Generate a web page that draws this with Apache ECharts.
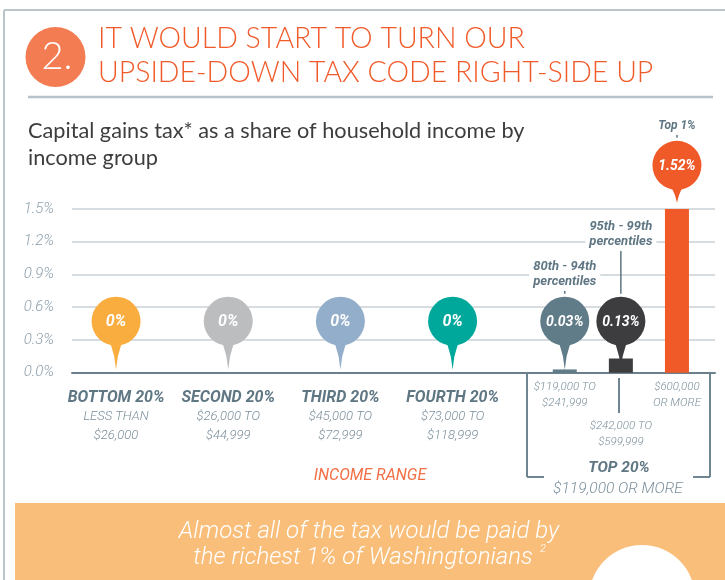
<!DOCTYPE html>
<html>
<head>
<meta charset="utf-8">
<script src="https://cdn.jsdelivr.net/npm/echarts@6.0.0/dist/echarts.min.js"></script>
<style>
  html, body { margin: 0; padding: 0; background: #fff; }
  #main { width: 725px; height: 580px; }
</style>
</head>
<body>
<div id="main"></div>
<script>
// income groups, left to right
const groups = ['BOTTOM 20%', 'SECOND 20%', 'THIRD 20%', 'FOURTH 20%', '80th - 94th', '95th - 99th', 'Top 1%'];
const ranges = [
  ['LESS THAN', '$26,000'],
  ['$26,000 TO', '$44,999'],
  ['$45,000 TO', '$72,999'],
  ['$73,000 TO', '$118,999'],
  ['$119,000 TO', '$241,999'],
  ['$242,000 TO', '$599,999'],
  ['$600,000', 'OR MORE']
];
const callouts = ['', '', '', '', '80th - 94th\npercentiles', '95th - 99th\npercentiles', 'Top 1%'];
// capital gains tax as % of household income
const shares = [0, 0, 0, 0, 0.03, 0.13, 1.52];
const yTicks = [0, 0.3, 0.6, 0.9, 1.2, 1.5];

const pinColors = ['#f9ad3f', '#bcbdbf', '#93aecb', '#00a89c', '#607c88', '#3d3d3f', '#f05a28'];

// category slots, the empty ones make the wide gaps between quintiles
const slotOf = [0, 2, 4, 6, 8, 9, 10];
const slotCount = 11;

const COND = 'Roboto, "Noto Sans", sans-serif';
const GEO = 'Lato, "Noto Sans", sans-serif';
const SLATE = '#5f7683';
const RANGE = '#7b8f9b';

const slotNames = [];
for (let i = 0; i < slotCount; i++) slotNames.push('s' + i);

const barData = slotNames.map(() => '-');
groups.forEach((g, i) => {
  barData[slotOf[i]] = { value: shares[i], itemStyle: { color: pinColors[i] } };
});

function axisLabelFor(value, index) {
  const g = slotOf.indexOf(index);
  if (g < 0) return '';
  const r = ranges[g];
  if (g < 4) return '{sp| }\n{t|' + groups[g] + '}\n{r|' + r[0] + '}\n{r|' + r[1] + '}';
  if (g === 5) return '{sp2| }\n{r2|' + r[0] + '}\n{r2|' + r[1] + '}';
  return '{r2|' + r[0] + '}\n{r2|' + r[1] + '}';
}

function renderPin(params, api) {
  const g = api.value(2);
  const v = api.value(1);
  const base = api.coord([api.value(0), 0]);
  const top = api.coord([api.value(0), v]);
  const x = base[0];
  const onBar = v > 0.5;
  const r = 24.5;
  const tip = onBar ? top[1] - 4 : base[1] - 3;
  const tail = onBar ? 13 : 24;
  const cy = tip - tail - r;
  const color = pinColors[g];
  const label = v === 0 ? '0%' : v.toFixed(2) + '%';
  const kids = [
    {
      type: 'polygon',
      shape: { points: [[x - 6, cy + r - 4], [x - 1.8, cy + r + tail * 0.45], [x, tip], [x + 1.8, cy + r + tail * 0.45], [x + 6, cy + r - 4]] },
      style: { fill: color }
    },
    { type: 'circle', shape: { cx: x, cy: cy, r: r }, style: { fill: color } },
    {
      type: 'text',
      style: {
        text: label, x: x, y: cy + 1, fill: '#fff',
        font: 'italic bold ' + (v === 0 ? 16 : 14) + 'px ' + COND,
        align: 'center', verticalAlign: 'middle', textAlign: 'center', textVerticalAlign: 'middle'
      }
    }
  ];
  if (callouts[g]) {
    const rise = g === 5 ? 40 : 0;
    const cTop = cy - r;
    kids.push({
      type: 'line',
      shape: { x1: x, y1: cTop - 3, x2: x, y2: cTop - 6 - rise },
      style: { stroke: SLATE, lineWidth: 1.5 }
    });
    kids.push({
      type: 'text',
      style: {
        text: callouts[g], x: x, y: cTop - 6 - rise, fill: SLATE,
        font: 'italic bold ' + (g === 6 ? 12 : 13) + 'px ' + COND,
        lineHeight: 15,
        backgroundColor: '#fff', padding: [1, 4],
        align: 'center', verticalAlign: 'bottom', textAlign: 'center', textVerticalAlign: 'bottom'
      }
    });
  }
  return { type: 'group', children: kids };
}

function txt(text, x, y, font, fill, align) {
  return {
    type: 'text',
    style: {
      text: text, x: x, y: y, font: font, fill: fill,
      textAlign: align || 'center', textVerticalAlign: 'middle',
      align: align || 'center', verticalAlign: 'middle'
    }
  };
}

function seg(x1, y1, x2, y2, color, w) {
  return { type: 'line', shape: { x1: x1, y1: y1, x2: x2, y2: y2 }, style: { stroke: color, lineWidth: w } };
}

const myChart = echarts.init(document.getElementById('main'));

const option = {
  animation: false,
  backgroundColor: '#fff',
  grid: [
    { left: 72, right: 10, top: 209, bottom: 207.3 },
    { left: 88, right: 20, top: 209, bottom: 207.3 }
  ],
  xAxis: [
    {
      gridIndex: 0, type: 'category', data: [''],
      axisLine: { lineStyle: { color: '#6b7f8c', width: 2 } },
      axisTick: { show: false }, axisLabel: { show: false }
    },
    {
      gridIndex: 1, type: 'category', data: slotNames,
      axisLine: { show: false }, axisTick: { show: false },
      axisLabel: {
        interval: 0, margin: 6, formatter: axisLabelFor,
        rich: {
          sp: { fontSize: 1, lineHeight: 10 },
          sp2: { fontSize: 1, lineHeight: 39 },
          t: { fontFamily: COND, fontWeight: 'bold', fontStyle: 'italic', fontSize: 16, color: SLATE, lineHeight: 19 },
          r: { fontFamily: COND, fontWeight: 300, fontStyle: 'italic', fontSize: 13, color: RANGE, lineHeight: 19 },
          r2: { fontFamily: COND, fontWeight: 300, fontStyle: 'italic', fontSize: 11.5, color: RANGE, lineHeight: 16 }
        }
      }
    }
  ],
  yAxis: [
    {
      gridIndex: 0, type: 'value',
      min: yTicks[0], max: yTicks[yTicks.length - 1], interval: yTicks[1] - yTicks[0],
      axisLine: { show: false }, axisTick: { show: false },
      axisLabel: {
        margin: 18, formatter: v => v.toFixed(1) + '%',
        fontFamily: COND, fontWeight: 300, fontStyle: 'italic', fontSize: 15, color: '#8d9fac'
      },
      splitLine: { lineStyle: { color: '#d6dce0', width: 2 } }
    },
    {
      gridIndex: 1, type: 'value', show: false,
      min: yTicks[0], max: yTicks[yTicks.length - 1], interval: yTicks[1] - yTicks[0]
    }
  ],
  series: [
    {
      type: 'bar', xAxisIndex: 1, yAxisIndex: 1,
      barWidth: 24, data: barData, z: 3
    },
    {
      type: 'custom', xAxisIndex: 1, yAxisIndex: 1, clip: false, z: 5,
      data: groups.map((g, i) => [slotOf[i], shares[i], i]),
      renderItem: renderPin
    }
  ],
  graphic: [
    // frame + heading
    seg(4, 10, 4, 580, '#bac5cc', 2),
    seg(4, 10, 725, 10, '#bac5cc', 2),
    { type: 'circle', shape: { cx: 55.5, cy: 57, r: 30 }, style: { fill: '#f37c53' } },
    txt('2.', 57, 57, '300 38px ' + GEO, '#fff'),
    txt('IT WOULD START TO TURN OUR', 98, 39, '300 28.5px ' + GEO, '#f15a29', 'left'),
    txt('UPSIDE-DOWN TAX CODE RIGHT-SIDE UP', 98, 73, '300 28.5px ' + GEO, '#f15a29', 'left'),
    seg(28, 97, 713, 97, '#b8c3c9', 2.5),
    txt('Capital gains tax* as a share of household income by', 28, 131, '21.7px ' + GEO, '#3d3d3d', 'left'),
    txt('income group', 28, 158, '21.7px ' + GEO, '#3d3d3d', 'left'),
    // top 20% bracket
    seg(527, 373, 527, 477, '#6f8592', 2),
    seg(527, 477, 544, 477, '#6f8592', 2),
    seg(710, 373, 710, 477, '#6f8592', 2),
    seg(693, 477, 710, 477, '#6f8592', 2),
    seg(619, 378, 619, 413, '#6f8592', 2),
    txt('TOP 20%', 619, 468, 'italic bold 15.5px ' + COND, SLATE),
    txt('$119,000 OR MORE', 618, 489, 'italic 300 15.5px ' + COND, RANGE),
    txt('INCOME RANGE', 370, 476, 'italic 16px ' + COND, '#f26f45'),
    // footer band
    { type: 'rect', shape: { x: 15, y: 503, width: 710, height: 77 }, style: { fill: '#f9be7a' } },
    { type: 'circle', shape: { cx: 642, cy: 598, r: 53 }, style: { fill: '#fff' } },
    txt('Almost all of the tax would be paid by', 369, 532, 'italic 300 24px ' + COND, '#fff'),
    txt('the richest 1% of Washingtonians', 363, 558, 'italic 300 24px ' + COND, '#fff'),
    txt('2', 543, 549, 'italic 300 11px ' + COND, '#fff')
  ]
};

myChart.setOption(option);
</script>
</body>
</html>
